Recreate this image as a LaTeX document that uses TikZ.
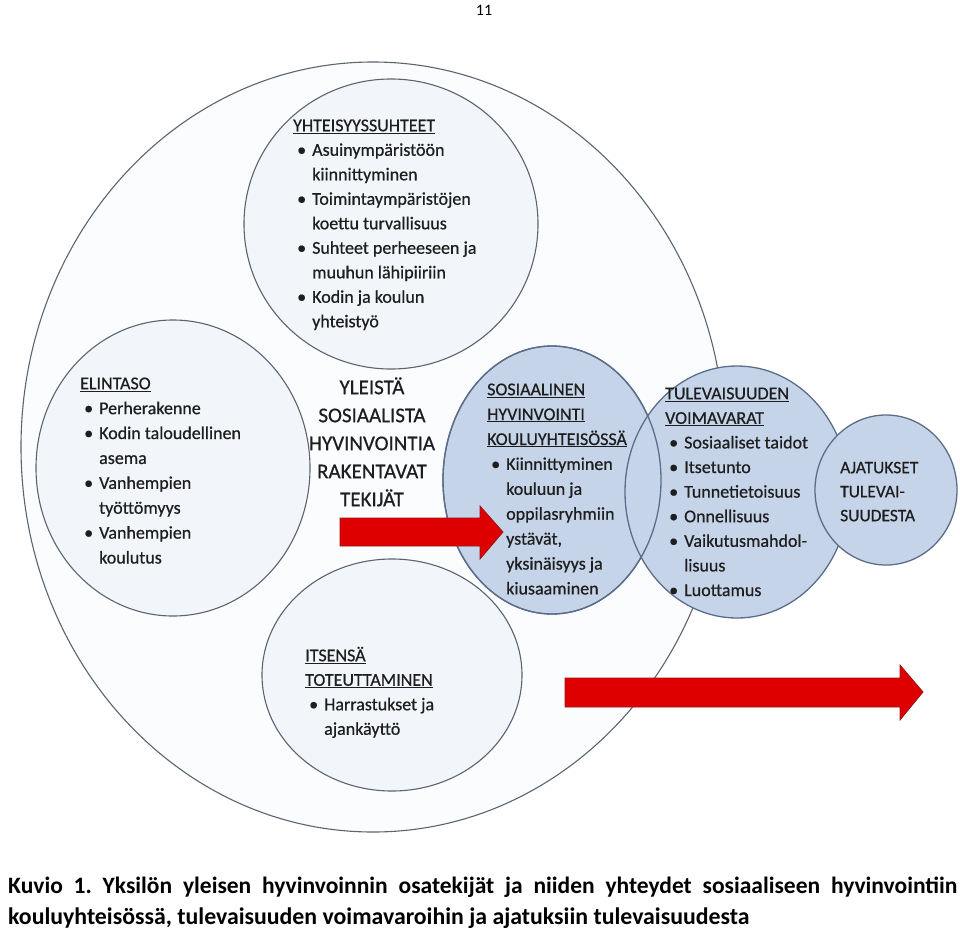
\documentclass[tikz,border=0pt]{standalone}
\usepackage{fontspec}
\setmainfont{Carlito}
\newfontfamily\diagfont{Carlito}[FakeBold=0.6]
\usepackage{tikz}
\usetikzlibrary{positioning}

\definecolor{ringline}{HTML}{5C6470}
\definecolor{ringfill}{HTML}{F2F5FA}
\definecolor{outerfill}{HTML}{FBFCFE}
\definecolor{blueline}{HTML}{5B6D88}
\definecolor{bluefill}{HTML}{C6D4E9}
\definecolor{arrowred}{HTML}{DE0000}
\definecolor{arrowedge}{HTML}{9A1515}
\definecolor{inktext}{HTML}{1E1E1E}

\newcommand{\bul}{\makebox[19bp][l]{\hspace{4bp}\textbullet}}
\newcommand{\ind}{\makebox[19bp]{}}
\frenchspacing

\begin{document}
\begin{tikzpicture}[x=1bp, y=-1bp,
   ring/.style={draw=ringline, line width=1.1bp, fill=ringfill},
   bluering/.style={draw=blueline, line width=1.3bp, fill=bluefill},
   bodytext/.style={anchor=north west, align=left, inner sep=0pt, text=inktext,
      font=\diagfont\fontsize{18bp}{24.5bp}\selectfont},
   redarrow/.style={fill=arrowred, draw=arrowedge, line width=0.8bp}]
  \useasboundingbox (0,0) rectangle (960,932);

  % circles
  \coordinate (outer) at (373,447);
  \coordinate (yhteis) at (391,224);
  \coordinate (elintaso) at (173,468);
  \coordinate (itsensa) at (392,675);
  \coordinate (sos) at (552,480);
  \coordinate (tulev) at (737,492);
  \coordinate (ajat) at (886,490);

  \draw[ring, fill=outerfill] (outer) ellipse [x radius=352bp, y radius=385bp];
  \draw[ring] (yhteis) ellipse [x radius=147bp, y radius=145bp];
  \draw[ring] (elintaso) ellipse [x radius=137bp, y radius=148bp];
  \draw[ring] (itsensa) ellipse [x radius=130bp, y radius=116bp];
  \draw[bluering] (sos) ellipse [x radius=109bp, y radius=134bp];
  \draw[bluering] (tulev) ellipse [x radius=112bp, y radius=126bp];
  \draw[bluering, fill=none] (sos) ellipse [x radius=109bp, y radius=134bp];
  \draw[bluering] (ajat) ellipse [x radius=71bp, y radius=75bp];

  % texts
  \node[font=\fontsize{16bp}{16bp}\selectfont] (pagenum) at (484,10) {11};

  \node[bodytext] (yhteistxt) at (293,113.9) {\strut\underline{YHTEISYYSSUHTEET}\\
    \bul Asuinympäristöön\\ \ind kiinnittyminen\\
    \bul Toimintaympäristöjen\\ \ind koettu turvallisuus\\
    \bul Suhteet perheeseen ja\\ \ind muuhun lähipiiriin\\
    \bul Kodin ja koulun\\ \ind yhteistyö};

  \node[bodytext, font=\diagfont\fontsize{18bp}{24.9bp}\selectfont] (elintxt) at (80,371.6) {\strut\underline{ELINTASO}\\
    \bul Perherakenne\\
    \bul Kodin taloudellinen\\ \ind asema\\
    \bul Vanhempien\\ \ind työttömyys\\
    \bul Vanhempien\\ \ind koulutus};

  \node[align=center, anchor=north, inner sep=0pt, text=inktext,
    font=\diagfont\fontsize{21bp}{28bp}\selectfont] (yleista) at (372,374.4)
    {\strut YLEISTÄ\\SOSIAALISTA\\HYVINVOINTIA\\RAKENTAVAT\\TEKIJÄT};

  \node[bodytext, font=\diagfont\fontsize{18bp}{24.9bp}\selectfont] (sostxt) at (487,377.6) {\strut\underline{SOSIAALINEN}\\
    \underline{HYVINVOINTI}\\ \underline{KOULUYHTEISÖSSÄ}\\
    \bul Kiinnittyminen\\ \ind kouluun ja\\ \ind oppilasryhmiin\\
    \ind ystävät,\\ \ind yksinäisyys ja\\ \ind kiusaaminen};

  \node[bodytext, font=\diagfont\fontsize{18bp}{24.6bp}\selectfont] (tulevtxt) at (665,381.8) {\strut\underline{TULEVAISUUDEN}\\
    \underline{VOIMAVARAT}\\
    \bul Sosiaaliset taidot\\ \bul Itsetunto\\ \bul Tunnetietoisuus\\
    \bul Onnellisuus\\ \bul Vaikutusmahdol-\\ \ind lisuus\\ \bul Luottamus};

  \node[bodytext, font=\diagfont\fontsize{17.5bp}{24bp}\selectfont] (ajattxt) at (840,456.2)
    {\strut AJATUKSET\\TULEVAI-\\SUUDESTA};

  \node[bodytext] (itsentxt) at (305,643.9) {\strut\underline{ITSENSÄ}\\
    \underline{TOTEUTTAMINEN}\\
    \bul Harrastukset ja\\ \ind ajankäyttö};

  % arrows
  \draw[redarrow] (340,518) -- (480,518) -- (480,506) -- (503,532)
    -- (480,559) -- (480,546) -- (340,546) -- cycle;
  \draw[redarrow] (565,678) -- (900,678) -- (900,665) -- (923,692)
    -- (900,720) -- (900,707) -- (565,707) -- cycle;

  % caption
  \node[anchor=base west, inner sep=0pt, font=\bfseries\fontsize{23.5bp}{31bp}\selectfont]
    (kuvio1) at (8,893) {\makebox[949bp][s]{Kuvio 1. Yksilön yleisen hyvinvoinnin osatekijät ja niiden yhteydet sosiaaliseen hyvinvointiin}};
  \node[anchor=base west, inner sep=0pt, font=\bfseries\fontsize{23.8bp}{31bp}\selectfont]
    (kuvio2) at (8,924) {kouluyhteisössä, tulevaisuuden voimavaroihin ja ajatuksiin tulevaisuudesta};
\end{tikzpicture}
\end{document}
